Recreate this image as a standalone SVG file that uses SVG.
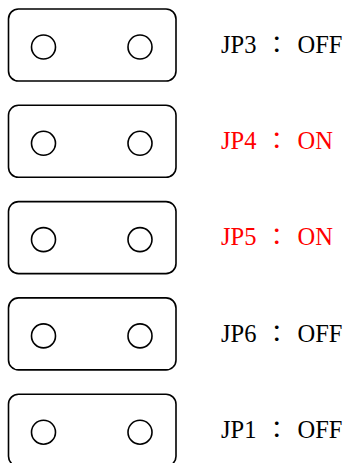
<svg xmlns="http://www.w3.org/2000/svg" width="350" height="463" viewBox="0 0 350 463">
<style>
.box{fill:#fff;stroke:#000;stroke-width:1.6}
.pin{fill:#fff;stroke:#000;stroke-width:1.6}
.lbl{font-family:"Liberation Serif","Noto Sans CJK JP",serif;font-size:24.5px;fill:#000}
.on{fill:#ff0000}
.col{font-family:"Noto Sans CJK JP","Liberation Serif",sans-serif;font-size:24px}
</style>
<defs>
<g id="jumper">
<rect class="box" x="8.5" y="9" width="167.5" height="72" rx="10" ry="10"/>
<circle class="pin" cx="43.5" cy="47" r="12"/>
<circle class="pin" cx="140" cy="47" r="12"/>
</g>
</defs>
<g id="jp3"><use href="#jumper"/><text class="lbl" y="52.7"><tspan x="221">JP3</tspan><tspan class="col" x="276.7" text-anchor="middle">：</tspan><tspan x="297.5">OFF</tspan></text></g>
<g id="jp4"><use href="#jumper" y="96.3"/><text class="lbl on" y="149.2"><tspan x="221">JP4</tspan><tspan class="col" x="276.7" text-anchor="middle">：</tspan><tspan x="297.5">ON</tspan></text></g>
<g id="jp5"><use href="#jumper" y="192.6"/><text class="lbl on" y="245.3"><tspan x="221">JP5</tspan><tspan class="col" x="276.7" text-anchor="middle">：</tspan><tspan x="297.5">ON</tspan></text></g>
<g id="jp6"><use href="#jumper" y="288.9"/><text class="lbl" y="341.6"><tspan x="221">JP6</tspan><tspan class="col" x="276.7" text-anchor="middle">：</tspan><tspan x="297.5">OFF</tspan></text></g>
<g id="jp1"><use href="#jumper" y="385.2"/><text class="lbl" y="437.8"><tspan x="221">JP1</tspan><tspan class="col" x="276.7" text-anchor="middle">：</tspan><tspan x="297.5">OFF</tspan></text></g>
<g id="connectors"/>
</svg>
